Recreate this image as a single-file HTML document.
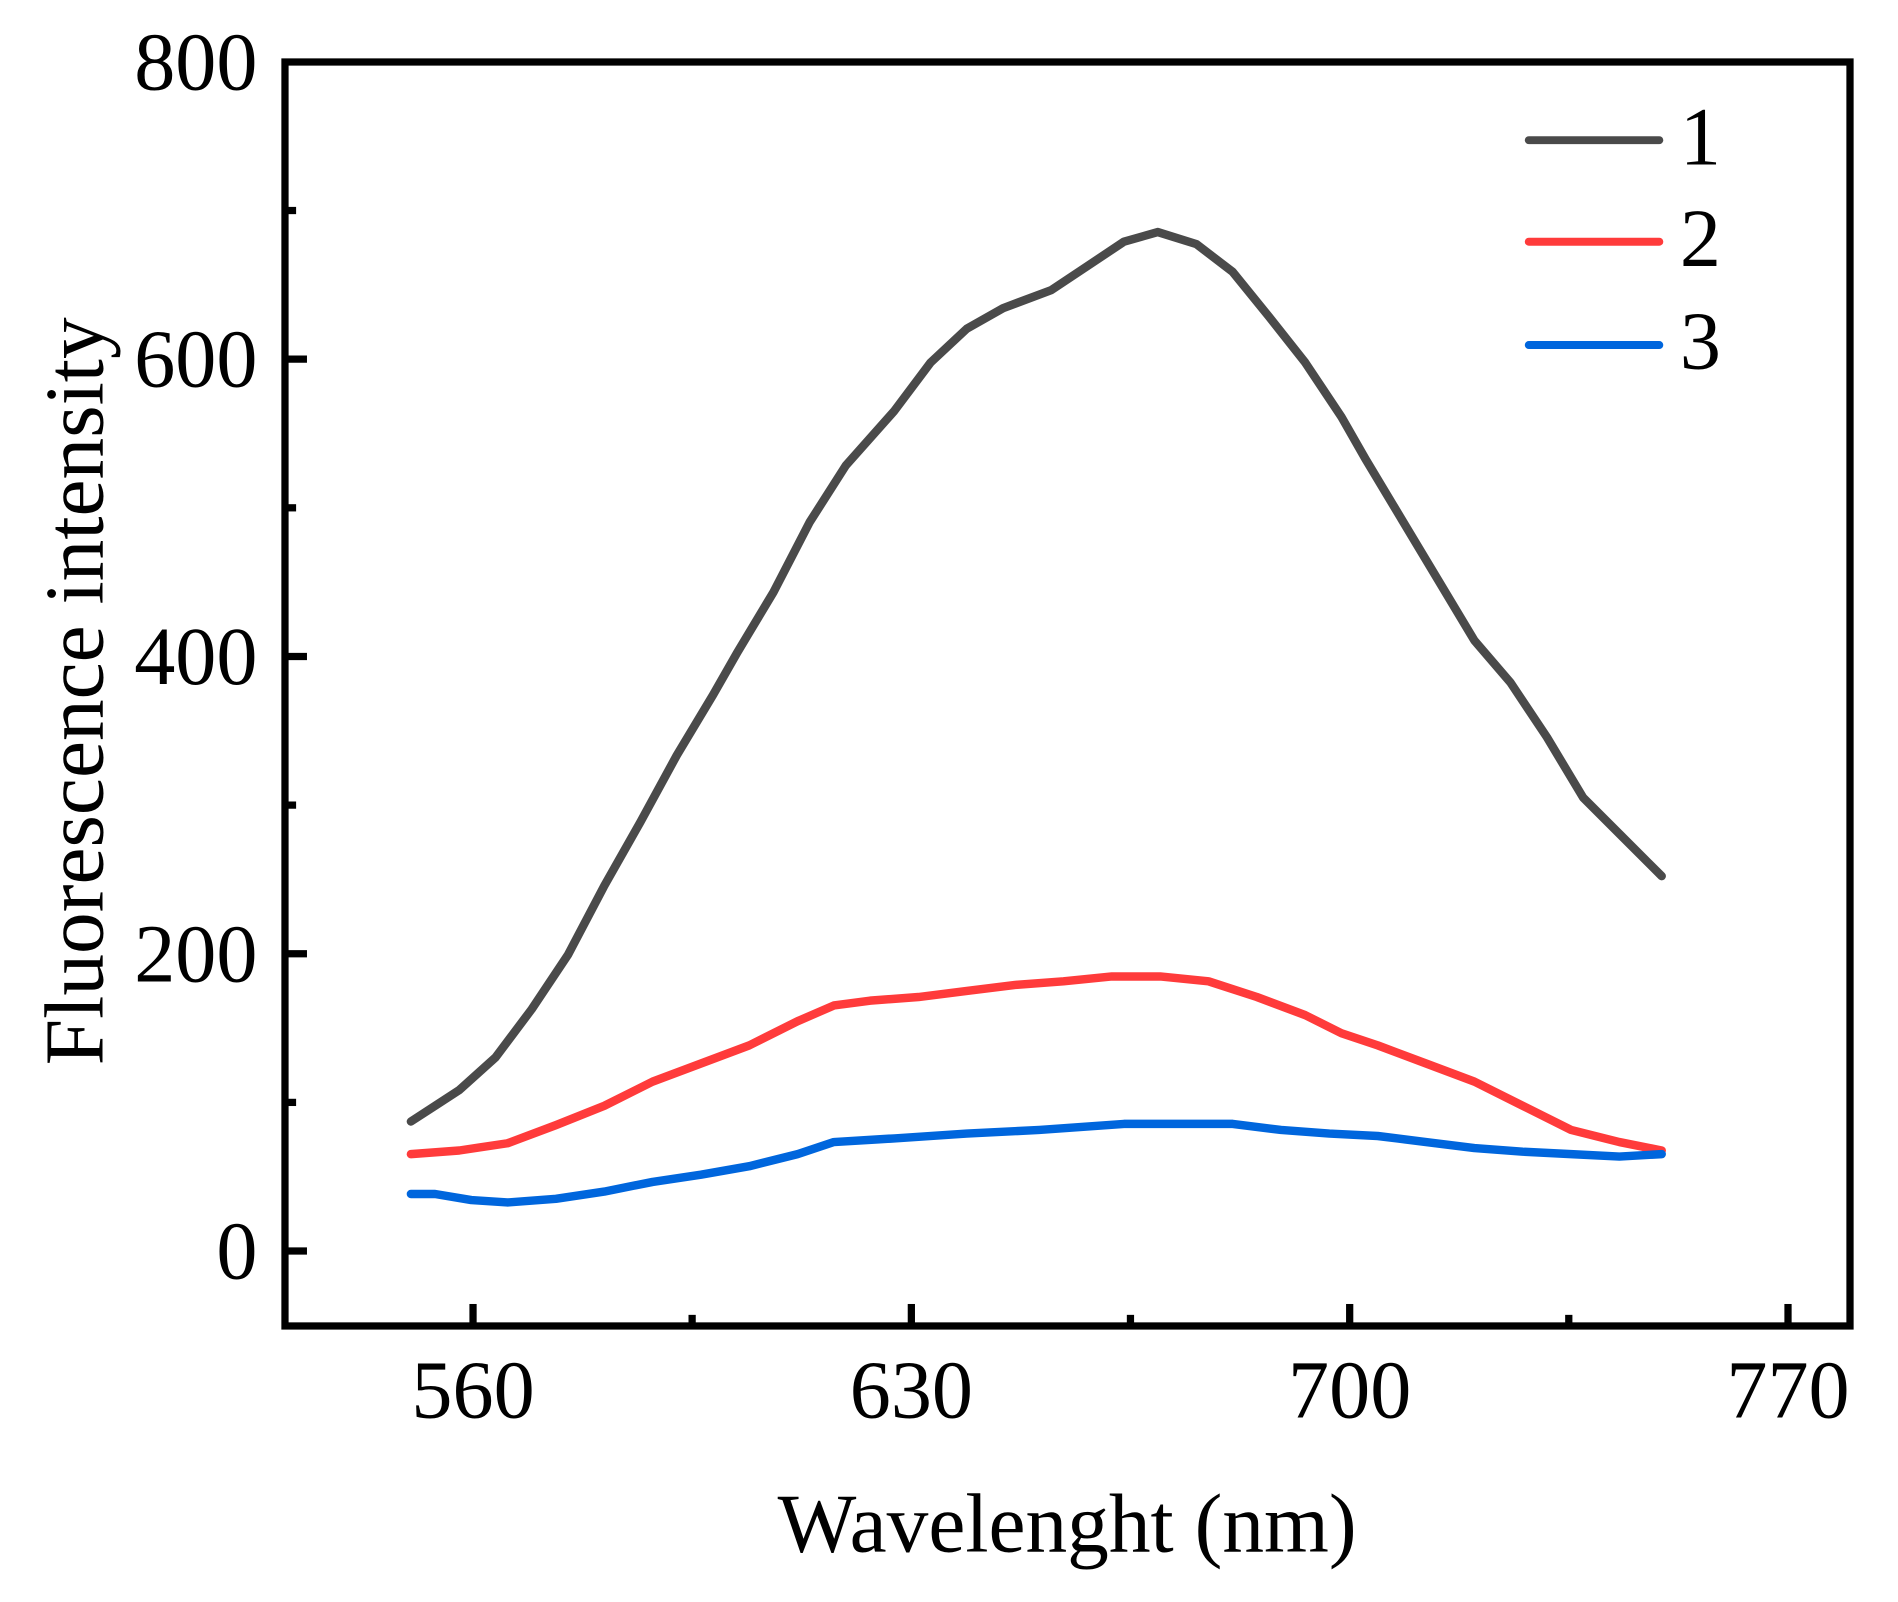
<!DOCTYPE html>
<html><head><meta charset="utf-8"><style>html,body{margin:0;padding:0;background:#fff}svg{display:block}</style></head>
<body>
<svg width="1898" height="1602" viewBox="0 0 1570.5 1325.6" xmlns="http://www.w3.org/2000/svg" font-family="Liberation Serif, serif">
<rect x="0" y="0" width="1570.5" height="1325.6" fill="#fff"/>
<g fill="none" stroke-linejoin="round" stroke-linecap="round" stroke-width="7">
<polyline stroke="#4a4a4a" points="340,928 360,915 380,902 410,875 440,835 470,790 500,733 530,680 560,625 590,575 610,540 640,490 670,432 700,385 740,340 770,300 800,272 830,255 870,240 900,220 930,200 958,192 990,202 1020,225 1050,262 1080,300 1110,345 1130,380 1160,430 1190,480 1220,530 1250,565 1280,610 1310,660 1340,690 1375,725"/>
<polyline stroke="#ff3b3b" points="340,955 380,952 420,946 460,931 500,915 540,895 580,880 620,865 660,845 690,832 720,828 760,825 800,820 840,815 880,812 920,808 960,808 1000,812 1040,825 1080,840 1110,855 1140,865 1180,880 1220,895 1260,915 1300,935 1340,945 1375,952"/>
<polyline stroke="#0066dd" points="340,988 360,988 390,993 420,995 460,992 500,986 540,978 580,972 620,965 660,955 690,945 740,942 800,938 860,935 930,930 980,930 1020,930 1060,935 1100,938 1140,940 1180,945 1220,950 1260,953 1300,955 1340,957 1375,955"/>
</g>
<g stroke="#000" stroke-width="6">
<rect x="235.8" y="51.3" width="1295" height="1045.9" fill="none"/>
<line x1="235.8" y1="1035.2" x2="254" y2="1035.2"/>
<line x1="235.8" y1="789.2" x2="254" y2="789.2"/>
<line x1="235.8" y1="543.2" x2="254" y2="543.2"/>
<line x1="235.8" y1="297.2" x2="254" y2="297.2"/>
<line x1="235.8" y1="912.2" x2="245" y2="912.2"/>
<line x1="235.8" y1="666.2" x2="245" y2="666.2"/>
<line x1="235.8" y1="420.2" x2="245" y2="420.2"/>
<line x1="235.8" y1="174.2" x2="245" y2="174.2"/>
<line x1="391.4" y1="1097.2" x2="391.4" y2="1079"/>
<line x1="754.1" y1="1097.2" x2="754.1" y2="1079"/>
<line x1="1116.8" y1="1097.2" x2="1116.8" y2="1079"/>
<line x1="1479.5" y1="1097.2" x2="1479.5" y2="1079"/>
<line x1="572.7" y1="1097.2" x2="572.7" y2="1088"/>
<line x1="935.4" y1="1097.2" x2="935.4" y2="1088"/>
<line x1="1298.1" y1="1097.2" x2="1298.1" y2="1088"/>
</g>
<g font-size="68" text-anchor="end">
<text x="213" y="1058">0</text>
<text x="213" y="812">200</text>
<text x="213" y="566">400</text>
<text x="213" y="320">600</text>
<text x="213" y="74">800</text>
</g>
<g font-size="68" text-anchor="middle">
<text x="391.4" y="1173">560</text>
<text x="754.1" y="1173">630</text>
<text x="1116.8" y="1173">700</text>
<text x="1479.5" y="1173">770</text>
<text x="883" y="1284" font-size="69">Wavelenght (nm)</text>
<text transform="translate(85,572) rotate(-90)" font-size="69">Fluorescence intensity</text>
</g>
<g stroke-width="6.6" stroke-linecap="round">
<line x1="1265" y1="116" x2="1373" y2="116" stroke="#4a4a4a"/>
<line x1="1265" y1="200" x2="1373" y2="200" stroke="#ff3b3b"/>
<line x1="1265" y1="285.5" x2="1373" y2="285.5" stroke="#0066dd"/>
</g>
<g font-size="68">
<text x="1390" y="136">1</text>
<text x="1390" y="220">2</text>
<text x="1390" y="305">3</text>
</g>
</svg>
</body></html>
